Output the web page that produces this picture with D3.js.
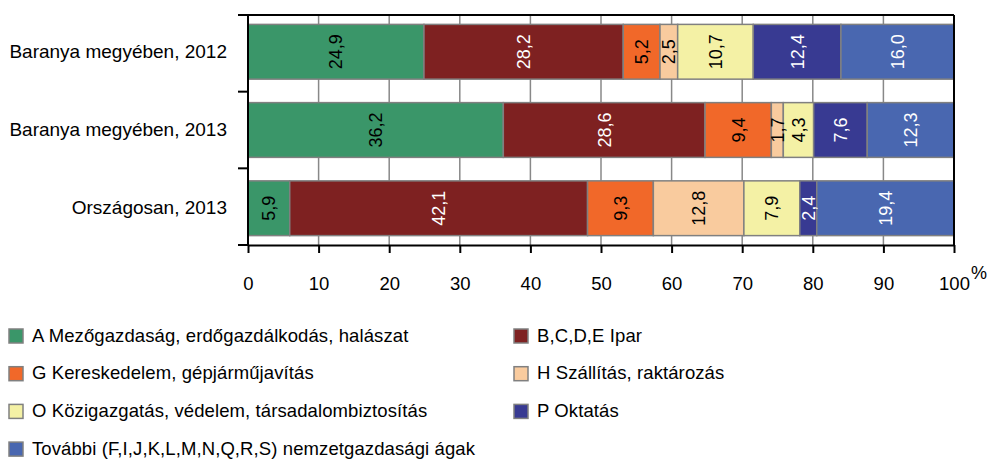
<!DOCTYPE html>
<html>
<head>
<meta charset="utf-8">
<script src="https://cdn.jsdelivr.net/npm/d3@7"></script>
<style>
  body { margin: 0; background: #fff; }
  svg { display: block; font-family: "Liberation Sans", Arial, sans-serif; }
</style>
</head>
<body>
<svg id="chart" width="990" height="459"></svg>
<script>
// kategóriák (sorok) és ágazatok
const categories = ["Baranya megyében, 2012", "Baranya megyében, 2013", "Országosan, 2013"];
const sectors = [
  "A Mezőgazdaság, erdőgazdálkodás, halászat",
  "B,C,D,E Ipar",
  "G Kereskedelem, gépjárműjavítás",
  "H Szállítás, raktározás",
  "O Közigazgatás, védelem, társadalombiztosítás",
  "P Oktatás",
  "További (F,I,J,K,L,M,N,Q,R,S) nemzetgazdasági ágak"
];
const baranya2012 = [24.9, 28.2, 5.2, 2.5, 10.7, 12.4, 16.0];
const baranya2013 = [36.2, 28.6, 9.4, 1.7, 4.3, 7.6, 12.3];
const orszagos2013 = [5.9, 42.1, 9.3, 12.8, 7.9, 2.4, 19.4];
const xTicks = [0, 10, 20, 30, 40, 50, 60, 70, 80, 90, 100];

const colors = ["#3a9669", "#7e2121", "#f16829", "#f9cb9e", "#f4f1a5", "#383a92", "#4967b0"];
const labelColors = ["#000", "#fff", "#000", "#000", "#000", "#fff", "#fff"];

const rows = [baranya2012, baranya2013, orszagos2013].map((vals, i) => {
  const r = { cat: categories[i] };
  sectors.forEach((s, j) => r[s] = vals[j]);
  return r;
});

const svg = d3.select("#chart");
const plotL = 248, plotR = 954, plotT = 15, plotB = 245;

const x = d3.scaleLinear().domain([0, 1]).range([plotL, plotR]);
const xPct = d3.scaleLinear().domain([0, 100]).range([plotL, plotR]);
const y = d3.scaleBand().domain(categories).range([plotT, plotB])
  .paddingInner(0.3).paddingOuter(0.12);

const stack = d3.stack().keys(sectors).offset(d3.stackOffsetExpand);
const series = stack(rows);

// rácsvonalak
svg.append("g")
  .selectAll("line")
  .data(xTicks.slice(1, -1))
  .enter().append("line")
  .attr("x1", d => xPct(d)).attr("x2", d => xPct(d))
  .attr("y1", plotT).attr("y2", plotB)
  .attr("stroke", "#888").attr("stroke-width", 1.5);

// oszlopok
const layer = svg.append("g")
  .selectAll("g")
  .data(series)
  .enter().append("g")
  .attr("fill", (d, i) => colors[i]);

layer.selectAll("rect")
  .data(d => d)
  .enter().append("rect")
  .attr("x", d => x(d[0]))
  .attr("width", d => x(d[1]) - x(d[0]))
  .attr("y", d => y(d.data.cat))
  .attr("height", y.bandwidth())
  .attr("stroke", "#808080")
  .attr("stroke-width", 1.5);

// értékcímkék
series.forEach((s, i) => {
  svg.append("g")
    .selectAll("text")
    .data(s)
    .enter().append("text")
    .attr("transform", d => `translate(${(x(d[0]) + x(d[1])) / 2},${y(d.data.cat) + y.bandwidth() / 2}) rotate(-90)`)
    .attr("text-anchor", "middle")
    .attr("dy", "0.36em")
    .attr("font-size", 18)
    .attr("fill", labelColors[i])
    .text(d => d3.format(".1f")(d.data[s.key]).replace(".", ","));
});

// keret
svg.append("line").attr("x1", plotL).attr("x2", plotR).attr("y1", plotT).attr("y2", plotT)
  .attr("stroke", "#000").attr("stroke-width", 2);
svg.append("line").attr("x1", plotR).attr("x2", plotR).attr("y1", plotT).attr("y2", plotB)
  .attr("stroke", "#000").attr("stroke-width", 2);

// x tengely
const xAxis = svg.append("g")
  .attr("transform", `translate(0,${plotB})`)
  .call(d3.axisBottom(xPct).tickValues(xTicks).tickSize(8).tickPadding(24).tickSizeOuter(0).tickFormat(d3.format("d")));
xAxis.select(".domain").attr("stroke", "#000").attr("stroke-width", 2);
xAxis.selectAll(".tick line").attr("stroke", "#000").attr("stroke-width", 2);
xAxis.selectAll(".tick text").attr("font-size", 18.5).attr("font-family", null).attr("fill", "#000");

svg.append("text")
  .attr("x", xPct(100) + 17).attr("y", 279)
  .attr("font-size", 18).text("%");

// y tengely
const yAxis = svg.append("g")
  .attr("transform", `translate(${plotL},0)`)
  .call(d3.axisLeft(y).tickSize(0).tickPadding(21));
yAxis.select(".domain").remove();
yAxis.selectAll(".tick text").attr("font-size", 19).attr("font-family", null).attr("fill", "#000");

svg.append("line").attr("x1", plotL).attr("x2", plotL).attr("y1", plotT).attr("y2", plotB)
  .attr("stroke", "#000").attr("stroke-width", 2);
svg.append("g")
  .selectAll("line")
  .data(d3.range(categories.length + 1))
  .enter().append("line")
  .attr("x1", plotL - 10).attr("x2", plotL)
  .attr("y1", i => plotT + i * (plotB - plotT) / categories.length)
  .attr("y2", i => plotT + i * (plotB - plotT) / categories.length)
  .attr("stroke", "#000").attr("stroke-width", 2);

// jelmagyarázat
const legend = svg.append("g")
  .selectAll("g")
  .data(sectors)
  .enter().append("g")
  .attr("transform", (d, i) => `translate(${i % 2 === 0 ? 9 : 514},${329 + Math.floor(i / 2) * 37.7})`);

legend.append("rect")
  .attr("width", 14).attr("height", 14)
  .attr("fill", (d, i) => colors[i])
  .attr("stroke", "#808080").attr("stroke-width", 1.5);

legend.append("text")
  .attr("x", 23).attr("y", 12.5)
  .attr("font-size", 18.5)
  .attr("letter-spacing", 0.1)
  .text(d => d);
</script>
</body>
</html>
